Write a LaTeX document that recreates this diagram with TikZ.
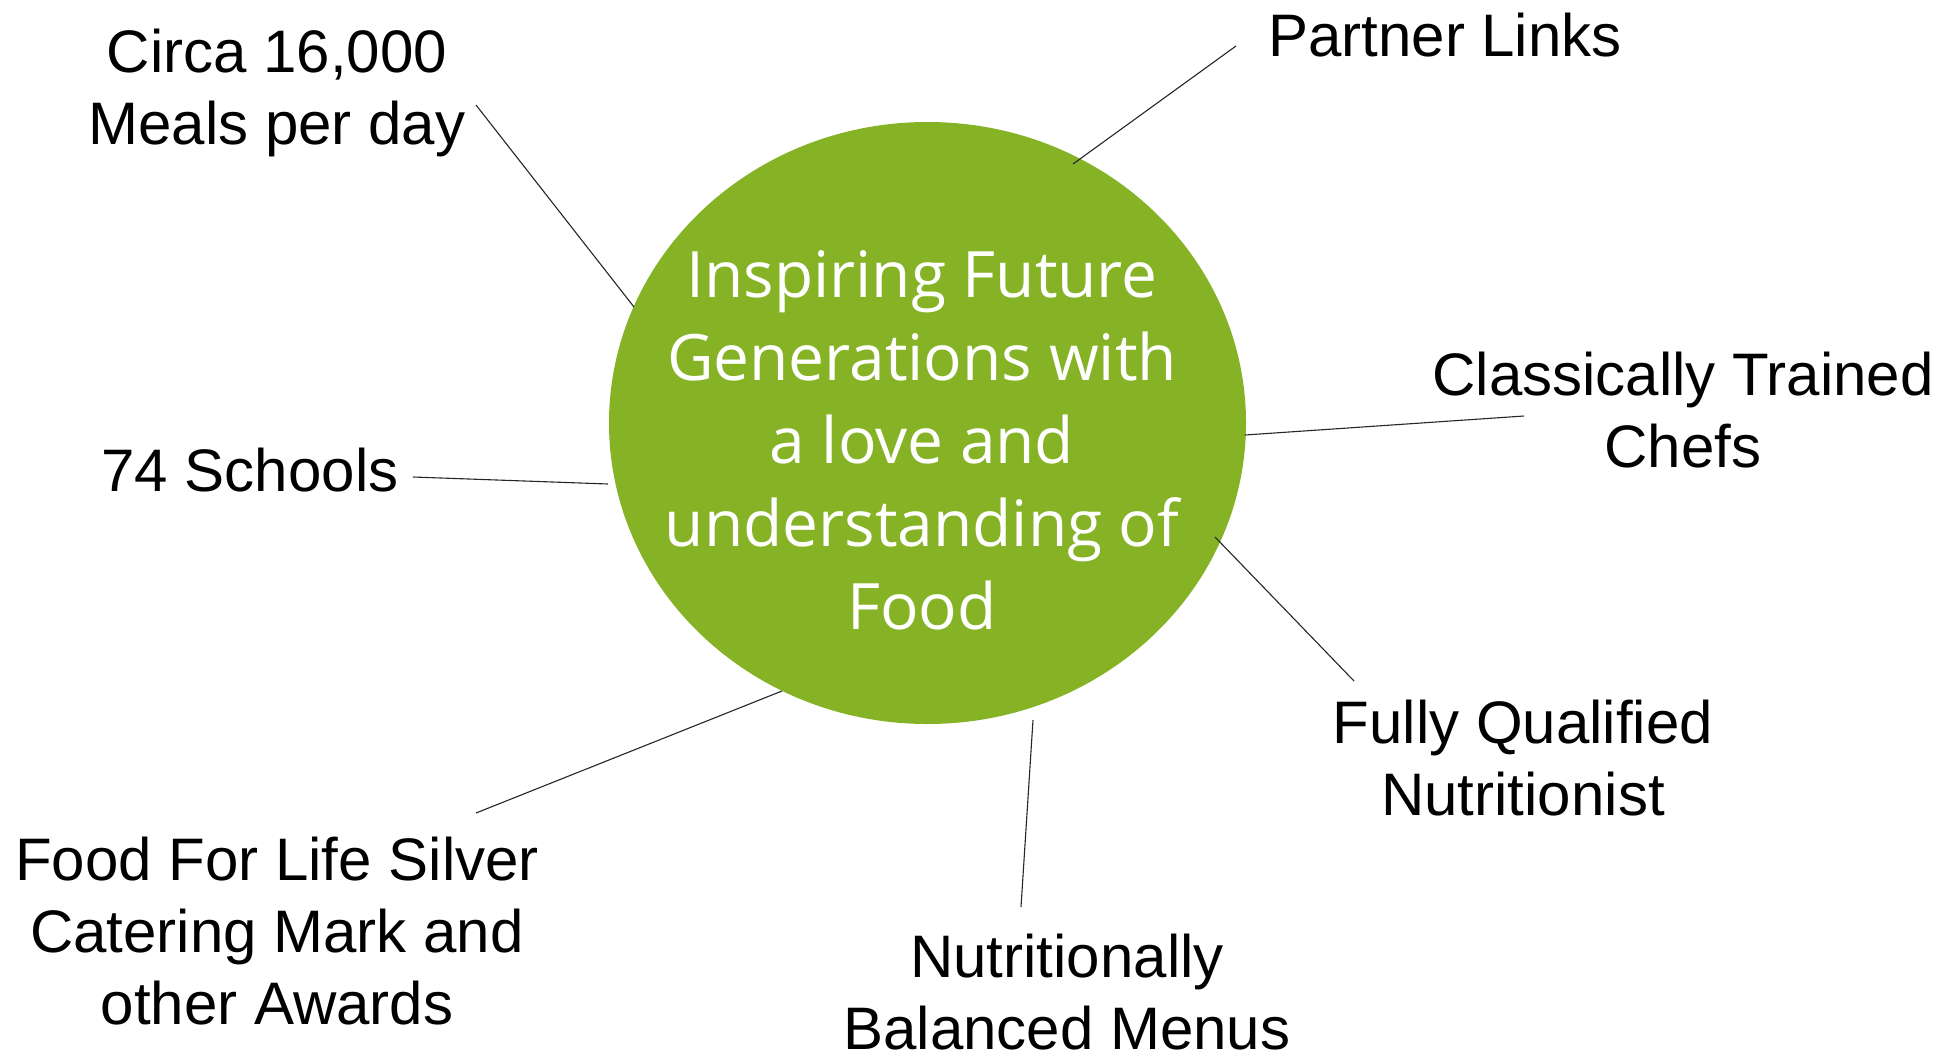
\documentclass[tikz,border=0pt]{standalone}
\usepackage{fontspec}
\setmainfont{Liberation Sans}
\newfontfamily\handfont{Open Sans}
\usetikzlibrary{shapes.geometric}
\definecolor{leafgreen}{RGB}{134,179,38}
\begin{document}
\begin{tikzpicture}[x=1pt,y=1pt,
  label/.style={anchor=base,align=center,inner sep=0pt,font=\fontsize{60}{72}\selectfont},
  hub/.style={ellipse,fill=leafgreen,draw=none,minimum width=637pt,minimum height=602pt,inner sep=0pt},
  hubtext/.style={anchor=base,align=center,inner sep=0pt,text=white,font=\handfont\fontsize{64}{83}\selectfont},
  link/.style={draw=black!85,line width=1.1pt}]
\useasboundingbox (0,0) rectangle (1955,-1052);
\fill[white] (0,0) rectangle (1955,-1052);

\node[hub] (c) at (927.5,-423) {};
\node[hubtext] (ctext) at (922,-629) {Inspiring Future\\Generations with\\a love and\\understanding of\\Food};

\node[label] (meals) at (277,-144) {Circa 16,000\\Meals per day};
\node[label] (schools) at (250,-491) {74 Schools};
\node[label] (partner) at (1445,-56) {Partner Links};
\node[label] (chefs) at (1683,-467) {Classically Trained\\Chefs};
\node[label] (nutri) at (1523,-815) {Fully Qualified\\Nutritionist};
\node[label] (menus) at (1067,-1049) {Nutritionally\\Balanced Menus};
\node[label] (awards) at (277,-1024) {Food For Life Silver\\Catering Mark and\\other Awards};

\coordinate (mealsA) at (476,-105);  \coordinate (mealsB) at (634,-307);
\coordinate (schoolsA) at (413,-477); \coordinate (schoolsB) at (608,-484);
\coordinate (partnerA) at (1236,-46); \coordinate (partnerB) at (1073,-164);
\coordinate (chefsA) at (1524,-416); \coordinate (chefsB) at (1245,-435);
\coordinate (awardsA) at (476,-813); \coordinate (awardsB) at (782,-691);
\coordinate (nutriA) at (1354,-681); \coordinate (nutriB) at (1215,-537);
\coordinate (menusA) at (1021,-907); \coordinate (menusB) at (1033,-720);

\draw[link] (mealsA) -- (mealsB);
\draw[link] (schoolsA) -- (schoolsB);
\draw[link] (partnerA) -- (partnerB);
\draw[link] (chefsA) -- (chefsB);
\draw[link] (awardsA) -- (awardsB);
\draw[link] (nutriA) -- (nutriB);
\draw[link] (menusA) -- (menusB);
\end{tikzpicture}
\end{document}
